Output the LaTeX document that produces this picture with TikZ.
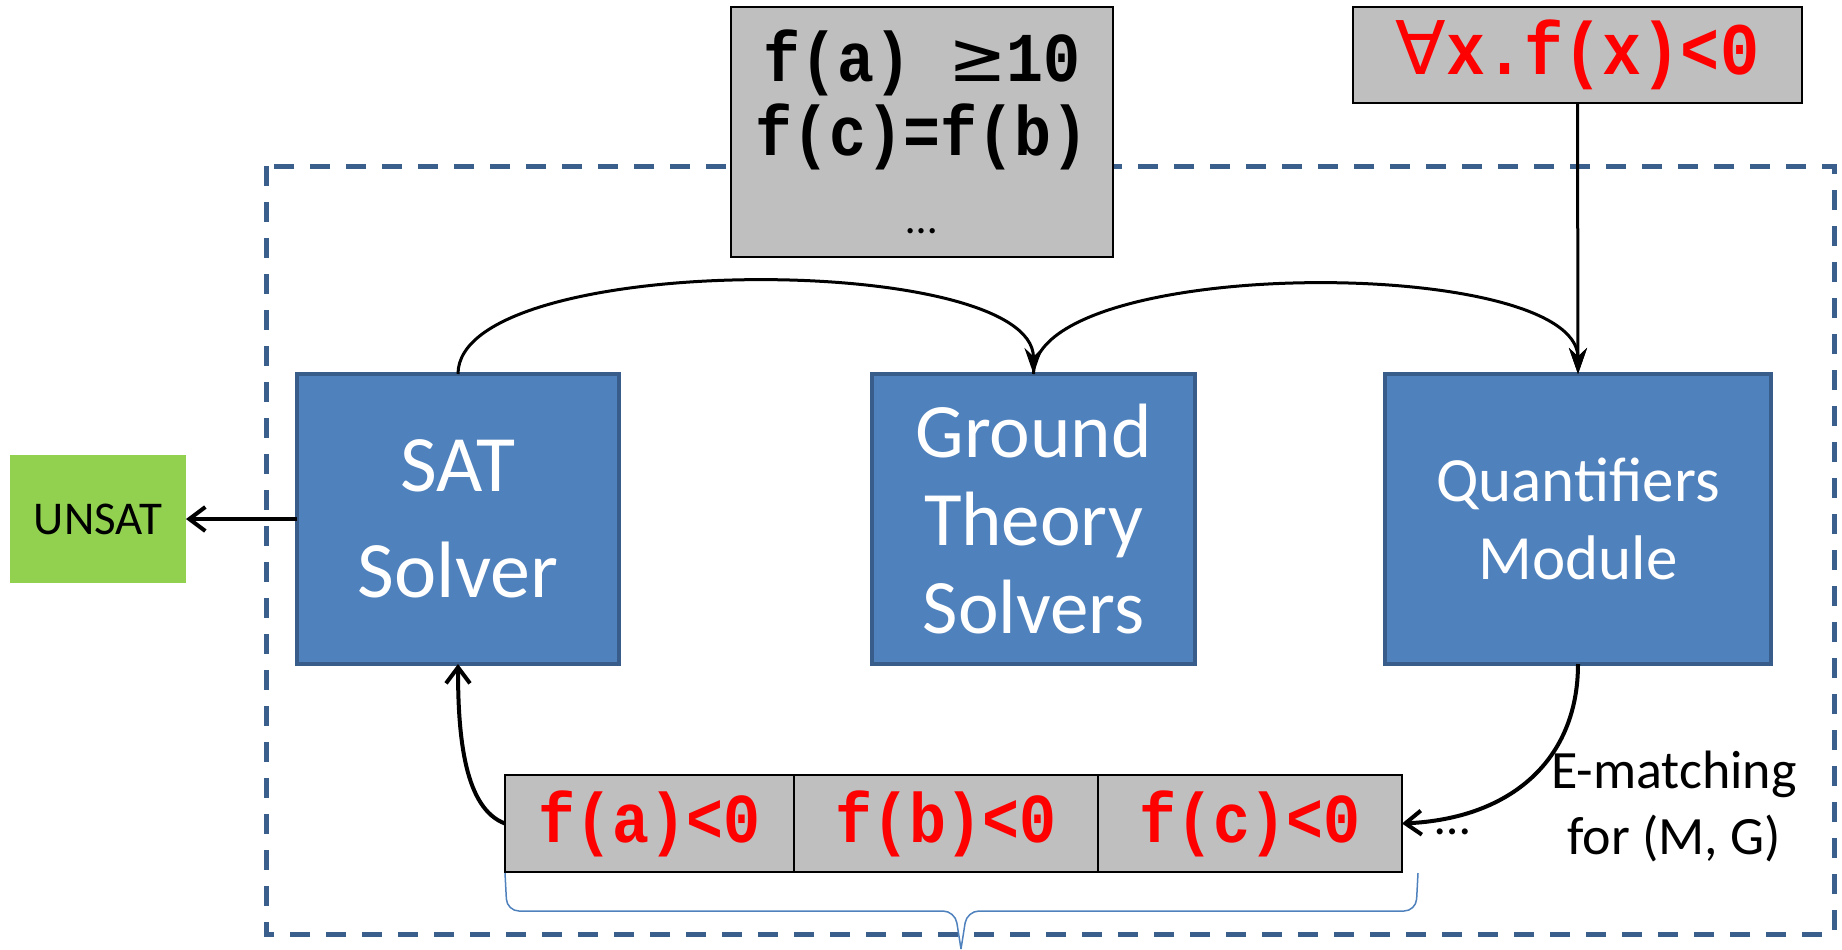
\documentclass[tikz,border=0pt]{standalone}
\usepackage{xcolor}
\usepackage{tikz}
\usepackage{fontspec}
\setmainfont{Carlito}
\newfontfamily\codefont[FakeStretch=0.88]{Liberation Mono}
\newfontfamily\symfont{DejaVu Sans}
\usetikzlibrary{arrows.meta,positioning}
\definecolor{solverfill}{HTML}{4F81BD}
\definecolor{solveredge}{HTML}{385D8A}
\definecolor{termgray}{HTML}{BFBFBF}
\definecolor{unsatgreen}{HTML}{92D050}
\definecolor{framedash}{HTML}{3A5F8C}
\definecolor{bracecol}{HTML}{4F81BD}
\definecolor{termred}{HTML}{FF0000}
\tikzstyle{solver} = [rectangle, draw=solveredge, line width=2pt, fill=solverfill,
    text=white, align=center, inner sep=0pt, outer sep=0pt, minimum height=145pt]
\tikzstyle{term} = [rectangle, draw=black, line width=1pt, fill=termgray, inner sep=0pt, outer sep=0pt]
\tikzstyle{cell} = [term, minimum height=48.5pt, text=termred,
    font=\codefont\bfseries\fontsize{35}{40}\selectfont]
\tikzstyle{arrow} = [-{Straight Barb[length=8pt, width=12pt]}, line width=2pt, black]
\tikzstyle{thinarrow} = [-{Stealth[length=13pt, width=9pt]}, line width=1.5pt, black]

\begin{document}
\begin{tikzpicture}[x=0.5pt, y=-0.5pt]
\useasboundingbox (0,0) rectangle (1842,949);
\draw[framedash, line width=2.5pt, dash pattern=on 10pt off 8pt] (266,166) rectangle (1834,934);
\node[solver, minimum width=161pt, font=\fontsize{40}{53}\selectfont] (sat) at (458,519) {SAT\\Solver};
\node[solver, minimum width=161.5pt, right=126.5pt of sat, font=\fontsize{38.5}{44}\selectfont] (ground) {Ground\\Theory\\Solvers};
\node[solver, minimum width=193pt, right=95pt of ground, font=\fontsize{31.5}{39}\selectfont] (quant) {Quantifiers\\Module};
\node[rectangle, fill=unsatgreen, minimum width=88pt, minimum height=64pt, outer sep=0pt, left=55.5pt of sat,
    font=\fontsize{23.5}{28}\selectfont] (unsat) {UNSAT};
\node[term, minimum width=191pt, minimum height=125pt, align=center,
    font=\codefont\bfseries\fontsize{35}{37}\selectfont] (facts) at (922,132)
    {f(a) {\symfont\mdseries ≥}10\\f(c)=f(b)\\[2pt]{\rmfamily\mdseries\fontsize{22}{24}\selectfont …}};
\node[term, minimum width=224.5pt, minimum height=48pt, text=termred,
    font=\codefont\bfseries\fontsize{37}{40}\selectfont] (forall) at (1577.5,55)
    {{\symfont\mdseries ∀}x.f(x)<0};
\node[cell, minimum width=144.5pt] (ca) at (649.5,823.5) {f(a)<0};
\node[cell, minimum width=152pt, right=0pt of ca] (cb) {f(b)<0};
\node[cell, minimum width=152pt, right=0pt of cb] (cc) {f(c)<0};
\node[font=\fontsize{25}{30}\selectfont] (more) at (1453,832) {…};
\node[align=center, font=\fontsize{27}{33}\selectfont] (ematch) at (1674,806) {E-matching\\for (M, G)};
% connectors
\draw[arrow] (sat.west) -- (unsat.east);
\draw[thinarrow] (sat.north) .. controls +(0,-123) and +(0,-123) .. (ground.north);
\draw[thinarrow] (ground.north) .. controls +(0,-119) and +(0,-119) .. (quant.north);
\draw[thinarrow] (forall.south) -- (quant.north);
\draw[arrow] (quant.south) .. controls +(0,95) and +(110,-5) .. (cc.east);
\draw[arrow] (ca.west) .. controls +(-40,-15) and +(0,75) .. (sat.south);
% brace under the cells
\draw[bracecol, line width=0.75pt, rounded corners=6pt] (505,873) -- (507,911) -- (955,911) -- (961,949);
\draw[bracecol, line width=0.75pt, rounded corners=6pt] (1418,873) -- (1416,911) -- (967,911) -- (961,949);
\end{tikzpicture}
\end{document}
